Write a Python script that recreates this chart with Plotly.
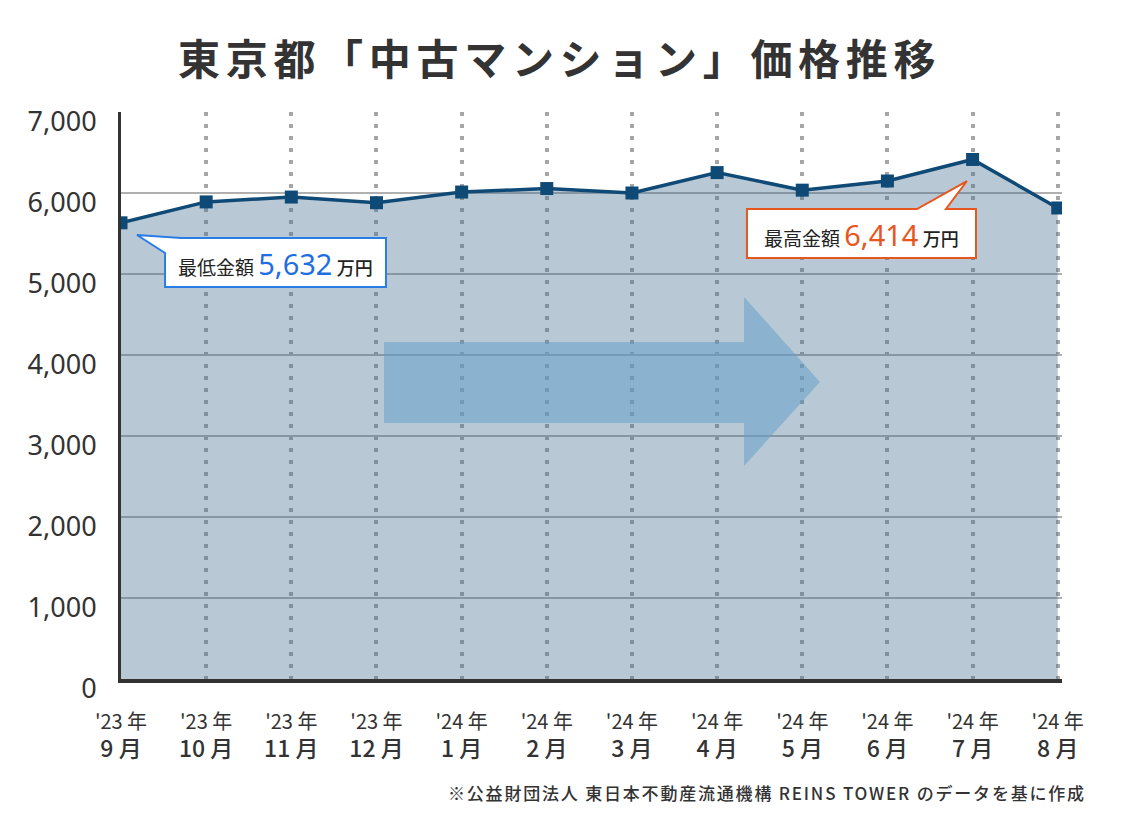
import plotly.graph_objects as go

# ---- data ----
years = ["'23", "'23", "'23", "'23", "'24", "'24", "'24", "'24", "'24", "'24", "'24", "'24"]
months = ["9", "10", "11", "12", "1", "2", "3", "4", "5", "6", "7", "8"]
prices = [5632, 5890, 5950, 5880, 6012, 6055, 6000, 6252, 6035, 6148, 6414, 5815]
y_ticks = [0, 1000, 2000, 3000, 4000, 5000, 6000, 7000]
title_text = "東京都「中古マンション」価格推移"
source_text = "※公益財団法人 東日本不動産流通機構 REINS TOWER のデータを基に作成"
low_label = "最低金額"
high_label = "最高金額"
unit_label = "万円"

# ---- layout geometry (screen pixels; page body has an 8px margin) ----
W, H = 1121, 835
OFF = 8
SL, SR, ST, SB = 121, 1062, 112, 679   # plot area on screen
PW = SR - SL
PH = SB - ST
L = SL - OFF
T = ST - OFF
R = W - L - PW
B = H - T - PH
JP = "Noto Sans CJK JP"


def px(x):
    return (x - SL) / PW


def py(y):
    return (SB - y) / PH


def path(pts):
    return "M " + " L ".join(f"{px(x):.4f},{py(y):.4f}" for x, y in pts) + " Z"


cats = [f"{y}-{m}" for y, m in zip(years, months)]
ticktext = [
    f"<span style='font-size:20px'>{y} 年</span><br>"
    f"<span style='font-size:23px;font-weight:500'>{m} 月</span>"
    for y, m in zip(years, months)
]

line_color = "#0f4a77"

fig = go.Figure()
fig.add_trace(go.Scatter(
    x=cats, y=prices, mode="lines+markers",
    line=dict(color=line_color, width=3.5),
    marker=dict(symbol="square", size=13, color=line_color),
    fill="tozeroy", fillcolor="rgba(63,106,142,0.37)",
    hoverinfo="skip", showlegend=False,
))

shapes = []
# big translucent arrow
shapes.append(dict(
    type="path", xref="paper", yref="paper", layer="above",
    path=path([(384, 342), (744, 342), (744, 297), (820, 382), (744, 466), (744, 423), (384, 423)]),
    fillcolor="rgba(102,160,200,0.55)", line=dict(width=0),
))
# low callout
shapes.append(dict(
    type="path", xref="paper", yref="paper", layer="above",
    path=path([(181, 238), (386, 238), (386, 287), (165, 287), (165, 253), (137, 235)]),
    fillcolor="white", line=dict(color="#2a7de6", width=2),
))
# high callout
shapes.append(dict(
    type="path", xref="paper", yref="paper", layer="above",
    path=path([(747, 209), (917, 209), (967, 181), (946, 209), (976, 209), (976, 258), (747, 258)]),
    fillcolor="white", line=dict(color="#e8561f", width=2),
))

lo = min(prices)
hi = max(prices)


def callout_text(label, value, color):
    return (f"<span style='font-size:19px'>{label}</span> "
            f"<span style='font-size:29px;color:{color};font-family:Noto Sans'>{value:,}</span> "
            f"<span style='font-size:18px;font-weight:500'>{unit_label}</span>")


annotations = [
    dict(
        xref="paper", yref="paper", x=px(559), y=py(57), xanchor="center", yanchor="middle",
        text=f"<span style='letter-spacing:5.7px'>{title_text}</span>", showarrow=False,
        font=dict(family=JP, size=42, color="#333333", weight="bold"),
    ),
    dict(
        xref="paper", yref="paper", x=px(275.5), y=py(263), xanchor="center", yanchor="middle",
        text=callout_text(low_label, lo, "#1f6fe3"),
        showarrow=False, font=dict(family=JP, size=19, color="#222222"),
    ),
    dict(
        xref="paper", yref="paper", x=px(861.5), y=py(234), xanchor="center", yanchor="middle",
        text=callout_text(high_label, hi, "#e8561f"),
        showarrow=False, font=dict(family=JP, size=19, color="#222222"),
    ),
    dict(
        xref="paper", yref="paper", x=px(1088), y=py(792), xanchor="right", yanchor="middle",
        text=f"<span style='letter-spacing:1.8px'>{source_text}</span>", showarrow=False,
        font=dict(family=JP, size=17, color="#333333", weight=500),
    ),
]

fig.update_layout(
    width=W, height=H,
    margin=dict(l=L, r=R, t=T, b=B, pad=0, autoexpand=False),
    paper_bgcolor="white", plot_bgcolor="white",
    shapes=shapes, annotations=annotations,
    xaxis=dict(
        type="category", range=[0, 11.05],
        tickmode="array", tickvals=cats, ticktext=ticktext,
        tickfont=dict(family=JP, size=21, color="#333333"),
        ticks="", ticklabelstandoff=21,
        showgrid=True, gridcolor="#a6a6a6", gridwidth=4, griddash="4px,8px",
        showline=True, linecolor="#333333", linewidth=4,
        zeroline=False,
    ),
    yaxis=dict(
        range=[0, 7000], tickmode="array", tickvals=y_ticks,
        ticktext=[f"{v:,}" for v in y_ticks],
        tickfont=dict(family="Noto Sans", size=27, color="#333333"),
        ticks="", ticklabelstandoff=16, ticklabelshift=10,
        showgrid=True, gridcolor="#b0b0b0", gridwidth=2,
        showline=True, linecolor="#333333", linewidth=3,
        zeroline=False,
    ),
)

fig.write_html("out.html")
